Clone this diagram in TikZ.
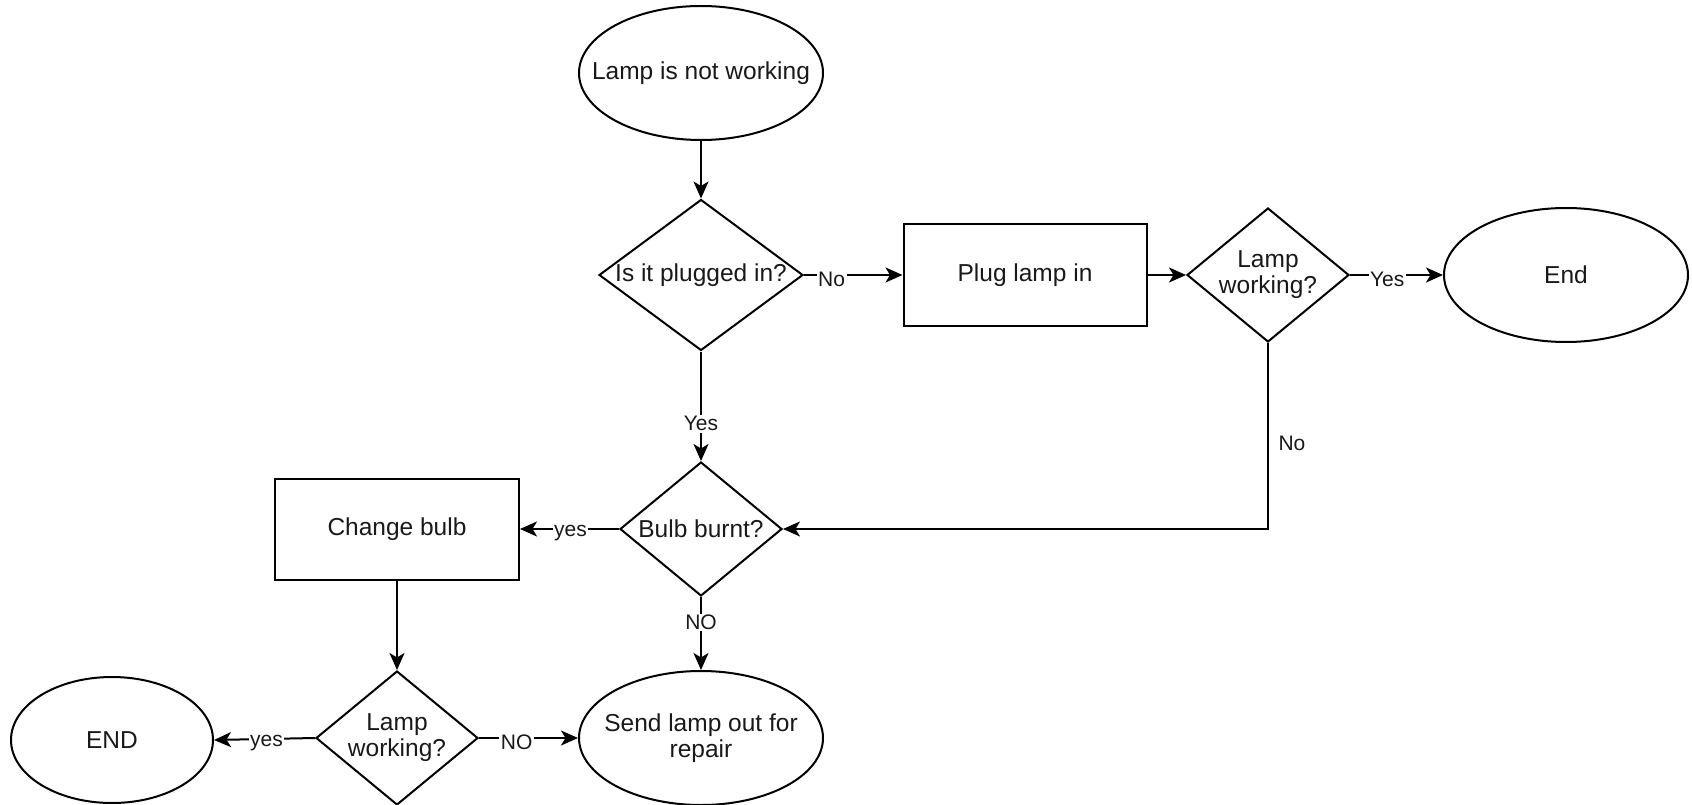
\documentclass[tikz,border=0pt]{standalone}
\usepackage{fontspec}
\setmainfont{Liberation Sans}
\usetikzlibrary{shapes.geometric,arrows.meta}
\begin{document}
\begin{tikzpicture}[x=1pt,y=-1pt,
  every node/.style={font=\fontsize{24.5}{26}\selectfont, text=black!90},
  box/.style={draw, line width=2pt, minimum width=243pt, minimum height=102pt, inner sep=0pt},
  ell/.style={draw, ellipse, line width=2pt, inner sep=0pt},
  dia/.style={draw, diamond, line width=2pt, inner sep=0pt},
  txt/.style={align=center, inner sep=0pt},
  lbl/.style={fill=white, inner sep=1.5pt, yshift=-4pt, font=\fontsize{21}{23}\selectfont},
  lblplain/.style={inner sep=1.5pt, font=\fontsize{21}{23}\selectfont},
  arr/.style={line width=2pt, -{Stealth[length=17pt,width=15pt,inset=4.5pt]}},
  ]
\useasboundingbox (0,0) rectangle (1692,805);

% nodes
\node[ell, minimum width=244pt, minimum height=134pt] (start) at (701,73) {};
\node[txt] (tstart) at (start) {Lamp is not working};

\node[dia, minimum width=204pt, minimum height=151pt] (d1) at (701,275) {};
\node[txt] (td1) at (d1) {Is it plugged in?};

\node[box] (plug) at (1025,275) {};
\node[txt] (tplug) at (plug) {Plug lamp in};

\node[dia, minimum width=162pt, minimum height=134pt] (d2) at (1268,275) {};
\node[txt] (td2) at (d2) {Lamp\\working?};

\node[ell, minimum width=244pt, minimum height=134pt] (fin) at (1566,275) {};
\node[txt] (tfin) at (fin) {End};

\node[dia, minimum width=162pt, minimum height=134pt] (d3) at (701,529) {};
\node[txt] (td3) at (d3) {Bulb burnt?};

\node[box, minimum width=244pt, minimum height=101pt] (chg) at (397,529) {};
\node[txt] (tchg) at (chg) {Change bulb};

\node[ell, minimum width=244pt, minimum height=134pt] (send) at (701,738) {};
\node[txt] (tsend) at (send) {Send lamp out for\\repair};

\node[dia, minimum width=162pt, minimum height=134pt] (d4) at (397,738) {};
\node[txt] (td4) at (d4) {Lamp\\working?};

\node[ell, minimum width=202pt, minimum height=126pt] (fin2) at (112,740) {};
\node[txt] (tfin2) at (fin2) {END};

% connectors
\draw[arr] (start) -- (d1);
\draw[arr] (d1.east) -- node[lbl, pos=0.28] {No} (plug.west);
\draw[arr] (plug.east) -- (d2.west);
\draw[arr] (d2.east) -- node[lbl, pos=0.4] {Yes} (fin.west);
\draw[arr] (d2.south) |- node[lblplain, pos=0.27, right=8pt] {No} (d3.east);
\draw[arr] (d1.south) -- node[lbl, pos=0.66, yshift=4pt] {Yes} (d3.north);
\draw[arr] (d3.west) -- node[lbl, pos=0.49] {yes} (chg.east);
\draw[arr] (d3.south) -- node[lbl, pos=0.35, yshift=4pt] {NO} (send.north);
\draw[arr] (chg.south) -- (d4.north);
\draw[arr] (d4.west) -- node[lbl, pos=0.48] {yes} (fin2.east);
\draw[arr] (d4.east) -- node[lbl, pos=0.38] {NO} (send.west);
\end{tikzpicture}
\end{document}
